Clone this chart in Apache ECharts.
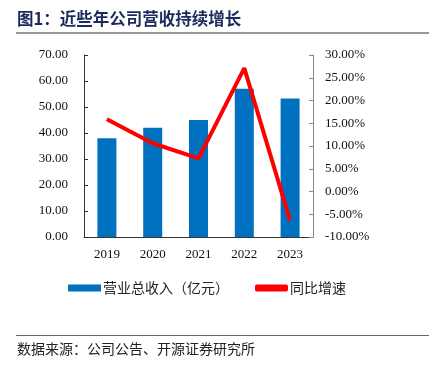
<!DOCTYPE html>
<html><head><meta charset="utf-8">
<script src="https://cdn.jsdelivr.net/npm/echarts@6/dist/echarts.min.js"></script>
<style>html,body{margin:0;padding:0;background:#fff}#c{width:429px;height:367px}</style>
</head><body><div id="c"></div>
<script>
const categories = ['2019','2020','2021','2022','2023'];
const revenue = [38.0, 42.0, 45.0, 57.0, 53.3];
const growth = [15.9, 10.6, 7.3, 27.1, -6.4];
const leftTicks = [0, 70, 10];
const rightTicks = [-10, 30, 5];

const chart = echarts.init(document.getElementById('c'));
const serif = '"Liberation Serif","Times New Roman",serif';
const cjk = '"Noto Sans CJK SC",sans-serif';
chart.setOption({
  animation: false,
  grid: {left: 84, right: 116, top: 55, bottom: 130},
  legend: {
    left: 63, top: 276, itemGap: 26, itemWidth: 33, itemHeight: 7,
    textStyle: {fontFamily: cjk, fontSize: 14, color: '#222', padding: [0,0,0,-3]},
    data: [{name: '营业总收入（亿元）', icon: 'rect'}, {name: '同比增速', icon: 'roundRect'}]
  },
  xAxis: {
    type: 'category', data: categories,
    axisLine: {lineStyle: {color: '#333', width: 1}},
    axisTick: {inside: true, length: 4, lineStyle: {color: '#333'}},
    axisLabel: {fontFamily: serif, fontSize: 13, color: '#111', margin: 11}
  },
  yAxis: [{
    type: 'value', min: leftTicks[0], max: leftTicks[1], interval: leftTicks[2],
    splitLine: {show: false},
    axisLine: {show: true, lineStyle: {color: '#333'}},
    axisTick: {show: true, inside: true, length: 4, lineStyle: {color: '#333'}},
    axisLabel: {fontFamily: serif, fontSize: 13, color: '#111', margin: 16,
      formatter: v => v.toFixed(2)}
  }, {
    type: 'value', min: rightTicks[0], max: rightTicks[1], interval: rightTicks[2],
    splitLine: {show: false},
    axisLine: {show: true, lineStyle: {color: '#888'}},
    axisTick: {show: true, inside: true, length: 4, lineStyle: {color: '#888'}},
    axisLabel: {fontFamily: serif, fontSize: 13, color: '#111', margin: 12,
      formatter: v => v.toFixed(2) + '%'}
  }],
  series: [{
    name: '营业总收入（亿元）', type: 'bar', data: revenue, barWidth: 19,
    itemStyle: {color: '#0070C0'}
  }, {
    name: '同比增速', type: 'line', yAxisIndex: 1, data: growth,
    symbol: 'none', lineStyle: {color: '#FF0000', width: 4}, itemStyle: {color: '#FF0000'}
  }],
  graphic: [
    {type: 'text', left: 17, top: 10, style: {text: '图1：近些年公司营收持续增长', fontFamily: cjk, fontWeight: 'bold', fontSize: 16.5, fill: '#1B2A5C'}},
    {type: 'rect', shape: {x: 16, y: 32, width: 413, height: 2}, style: {fill: '#999'}},
    {type: 'rect', shape: {x: 16, y: 335, width: 413, height: 1}, style: {fill: '#666'}},
    {type: 'text', left: 17, top: 342, style: {text: '数据来源：公司公告、开源证券研究所', fontFamily: cjk, fontSize: 14, fill: '#222'}}
  ]
});
</script></body></html>
